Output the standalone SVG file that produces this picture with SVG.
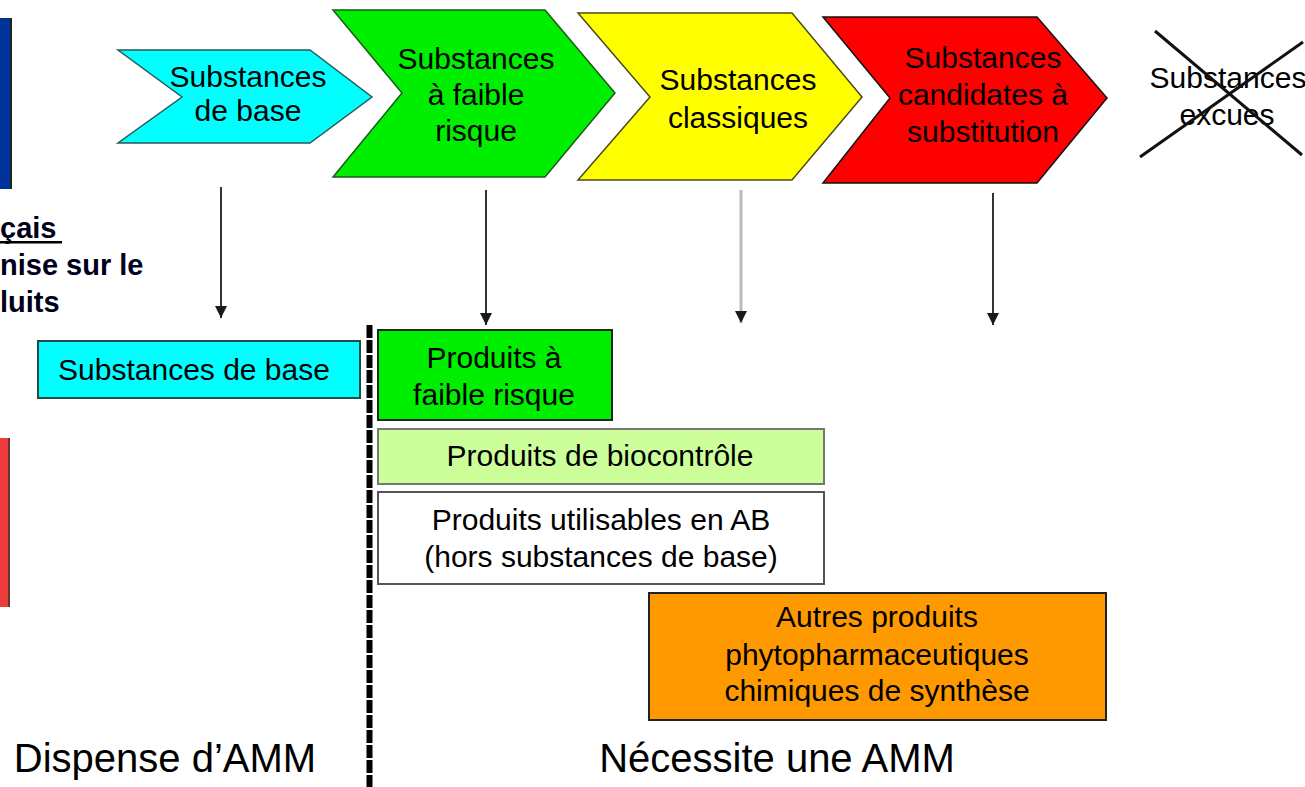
<svg xmlns="http://www.w3.org/2000/svg" width="1305" height="787" viewBox="0 0 1305 787">
<style>
  text { font-family: "Liberation Sans", Arial, sans-serif; fill: #000; }
  .t30 { font-size: 30px; text-anchor: middle; }
  .big { font-size: 40px; text-anchor: middle; }
  .lbl { font-size: 29px; font-weight: bold; fill: #00001a; }
  .chev { stroke-width: 1.5; }
  .box { stroke-width: 2; }
  .conn { stroke: #333; stroke-width: 2; fill: none; }
  .conn-light { stroke: #bbbbbb; stroke-width: 3; fill: none; }
</style>
<defs>
  <marker id="ah" viewBox="0 0 10 10" markerWidth="12" markerHeight="12" refX="10" refY="5" orient="auto" markerUnits="userSpaceOnUse">
    <path d="M0,0 L10,5 L0,10 z" fill="#1a1a1a"/>
  </marker>
</defs>
<rect width="1305" height="787" fill="#fff"/>

<!-- side bars -->
<g id="bars">
  <rect x="0" y="18" width="10" height="171" fill="#003399"/>
  <rect x="10" y="18" width="2" height="171" fill="#222"/>
  <rect x="0" y="438" width="8" height="169" fill="#ee3b3b"/>
  <rect x="8" y="438" width="2" height="169" fill="#663333"/>
</g>

<!-- left labels -->
<g id="left-label">
  <text class="lbl" x="0" y="238">çais</text>
  <rect x="0" y="241" width="62" height="2.5" fill="#000"/>
  <text class="lbl" x="0" y="275">nise sur le</text>
  <text class="lbl" x="0" y="312">luits</text>
</g>

<!-- chevrons -->
<g id="chev-base">
  <polygon class="chev" points="118,50 310,50 372,97 310,143 118,143 182,97" fill="#00ffff" stroke="#2a5a5a"/>
  <text class="t30" x="248" y="87">Substances</text>
  <text class="t30" x="248" y="121">de base</text>
</g>
<g id="chev-faible">
  <polygon class="chev" points="333,10 545,10 615,93 545,177 333,177 402,93" fill="#00ee00" stroke="#1a5a1a"/>
  <text class="t30" x="476" y="69">Substances</text>
  <text class="t30" x="476" y="105">à faible</text>
  <text class="t30" x="476" y="141">risque</text>
</g>
<g id="chev-classiques">
  <polygon class="chev" points="578,13 792,13 862,97 792,180 578,180 650,97" fill="#ffff00" stroke="#4a4a1a"/>
  <text class="t30" x="738" y="90">Substances</text>
  <text class="t30" x="738" y="128">classiques</text>
</g>
<g id="chev-candidates">
  <polygon class="chev" points="823,17 1037,17 1107,98 1037,183 823,183 890,98" fill="#ff0000" stroke="#111"/>
  <text class="t30" x="983" y="68" fill="#1a0000">Substances</text>
  <text class="t30" x="983" y="105" fill="#1a0000">candidates à</text>
  <text class="t30" x="983" y="142" fill="#1a0000">substitution</text>
</g>
<g id="exclues">
  <text class="t30" x="1228" y="88" fill="#000033">Substances</text>
  <text class="t30" x="1227" y="125" fill="#000033">excues</text>
  <line x1="1155" y1="31" x2="1302" y2="155" stroke="#111" stroke-width="3"/>
  <line x1="1140" y1="157" x2="1303" y2="42" stroke="#111" stroke-width="3"/>
</g>

<!-- connectors -->
<g id="connectors">
  <line class="conn" x1="221" y1="187" x2="221" y2="318" marker-end="url(#ah)"/>
  <line class="conn" x1="486" y1="190" x2="486" y2="325" marker-end="url(#ah)"/>
  <line class="conn-light" x1="741" y1="190" x2="741" y2="323" marker-end="url(#ah)"/>
  <line class="conn" x1="993" y1="193" x2="993" y2="325" marker-end="url(#ah)"/>
  <line x1="369.5" y1="325" x2="369.5" y2="787" stroke="#000" stroke-width="6" stroke-dasharray="13 2"/>
</g>

<!-- product boxes -->
<g id="box-substances-base">
  <rect class="box" x="38" y="341" width="322" height="57" fill="#00ffff" stroke="#1f4a4a"/>
  <text class="t30" x="194" y="380">Substances de base</text>
</g>
<g id="box-faible-risque">
  <rect class="box" x="378" y="330" width="234" height="90" fill="#00ee00" stroke="#1a2a1a"/>
  <text class="t30" x="494" y="368">Produits à</text>
  <text class="t30" x="494" y="405">faible risque</text>
</g>
<g id="box-biocontrole">
  <rect class="box" x="378" y="429" width="446" height="55" fill="#ccff99" stroke="#777"/>
  <text class="t30" x="600" y="466">Produits de biocontrôle</text>
</g>
<g id="box-ab">
  <rect class="box" x="378" y="492" width="446" height="92" fill="#fff" stroke="#555"/>
  <text class="t30" x="601" y="530">Produits utilisables en AB</text>
  <text class="t30" x="601" y="567">(hors substances de base)</text>
</g>
<g id="box-autres">
  <rect class="box" x="649" y="593" width="457" height="127" fill="#ff9900" stroke="#222"/>
  <text class="t30" x="877" y="627">Autres produits</text>
  <text class="t30" x="877" y="665">phytopharmaceutiques</text>
  <text class="t30" x="877" y="701">chimiques de synthèse</text>
</g>

<!-- bottom labels -->
<g id="bottom-labels">
  <text class="big" x="165" y="772">Dispense d’AMM</text>
  <text class="big" x="777" y="772">Nécessite une AMM</text>
</g>
</svg>
